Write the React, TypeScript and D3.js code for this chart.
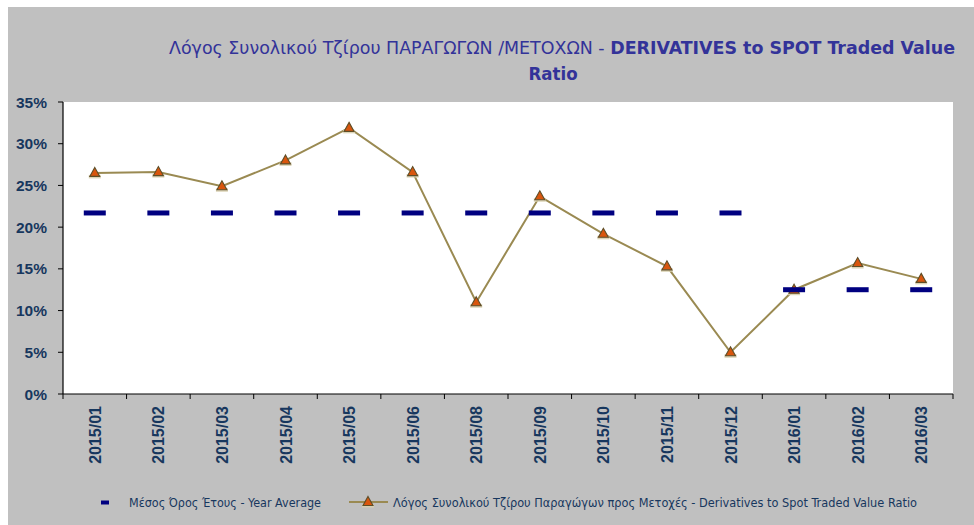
import React from "react";
import * as d3 from "d3";

const categories = ["2015/01","2015/02","2015/03","2015/04","2015/05","2015/06","2015/08","2015/09","2015/10","2015/11","2015/12","2016/01","2016/02","2016/03"];
const ratioValues = [26.5, 26.6, 24.9, 28.0, 31.9, 26.6, 11.0, 23.7, 19.2, 15.3, 5.0, 12.5, 15.7, 13.8];
const yearAverage = [21.7, 21.7, 21.7, 21.7, 21.7, 21.7, 21.7, 21.7, 21.7, 21.7, 21.7, 12.5, 12.5, 12.5];
const yTicks = [0, 5, 10, 15, 20, 25, 30, 35];

const titleLine1a = "Λόγος Συνολικού Τζίρου ΠΑΡΑΓΩΓΩΝ /ΜΕΤΟΧΩΝ - ";
const titleLine1b = "DERIVATIVES to SPOT Traded Value";
const titleLine2 = "Ratio";
const legendAvg = "Μέσος Όρος Έτους - Year Average";
const legendRatio = "Λόγος Συνολικού Τζίρου Παραγώγων προς Μετοχές - Derivatives to Spot Traded Value Ratio";

const W = 974, H = 525;
const plot = { left: 63, top: 102, right: 953, bottom: 394 };
const narrow = "'Liberation Sans Narrow', 'DejaVu Sans Condensed', 'Liberation Sans', sans-serif";
const tickColor = "#17375E";

function Marker({ x, y }: { x: number; y: number }) {
  return (
    <g transform={`translate(${x},${y})`}>
      <rect x={-6} y={2} width={12} height={3.5} fill="#d8d0b0" opacity={0.9} />
      <path d="M0,-5.5 L5,3.5 L-5,3.5 Z" fill="#d9560e" stroke="#5e4e28" strokeWidth={1.1} />
    </g>
  );
}

export default function App() {
  const x = d3.scaleBand<string>().domain(categories).range([plot.left, plot.right]).padding(0);
  const y = d3.scaleLinear().domain([0, 35]).range([plot.bottom, plot.top]);
  const cx = (c: string) => (x(c) as number) + x.bandwidth() / 2;
  const line = d3.line<number>().x((_, i) => cx(categories[i])).y((d) => y(d));

  return (
    <svg width={W} height={H} style={{ position: "absolute", left: 0, top: 0 }}>
      <rect x={0} y={0} width={W} height={H} fill="#ffffff" />
      <rect x={8} y={7} width={W - 8} height={H - 7} fill="#c0c0c0" />
      <text x={169} y={54} fontFamily={narrow} fontSize={18.5} fill="#333399" textLength={786} lengthAdjust="spacingAndGlyphs">
        <tspan>{titleLine1a}</tspan>
        <tspan fontWeight="bold">{titleLine1b}</tspan>
      </text>
      <text x={553} y={80} textAnchor="middle" fontFamily={narrow} fontSize={18.5} fontWeight="bold" fill="#333399">{titleLine2}</text>

      <rect x={plot.left} y={plot.top} width={plot.right - plot.left} height={plot.bottom - plot.top} fill="#ffffff" />

      {yTicks.map((t) => (
        <g key={t}>
          <line x1={plot.left - 5} x2={plot.left} y1={y(t)} y2={y(t)} stroke="#000" />
          <text x={47} y={y(t) + 5.5} textAnchor="end" fontFamily="'Liberation Sans', Arial, sans-serif" fontWeight="bold" fontSize={15.5} fill={tickColor}>{t}%</text>
        </g>
      ))}
      {categories.map((c, i) => (
        <line key={"t" + i} x1={x(c) as number} x2={x(c) as number} y1={plot.bottom} y2={plot.bottom + 5} stroke="#000" />
      ))}
      <line x1={plot.right} x2={plot.right} y1={plot.bottom} y2={plot.bottom + 5} stroke="#000" />
      {categories.map((c) => (
        <text key={"l" + c} transform={`translate(${cx(c) + 6},${406}) rotate(-90)`} textAnchor="end" fontFamily="'Liberation Sans', Arial, sans-serif" fontWeight="bold" fontSize={16} fill={tickColor}>{c}</text>
      ))}
      <line x1={plot.left} x2={plot.left} y1={plot.top} y2={plot.bottom} stroke="#000" strokeWidth={1.2} />
      <line x1={plot.left} x2={plot.right} y1={plot.bottom} y2={plot.bottom} stroke="#000" strokeWidth={1.2} />

      <path d={line(ratioValues) || ""} fill="none" stroke="#9a8a52" strokeWidth={2} />
      {ratioValues.map((v, i) => (
        <Marker key={"m" + i} x={cx(categories[i])} y={y(v)} />
      ))}
      {yearAverage.map((v, i) => (
        <rect key={"a" + i} x={cx(categories[i]) - 11} y={y(v) - 2.5} width={22} height={5} fill="#000080" />
      ))}

      <rect x={101} y={500.5} width={8} height={4} fill="#000080" />
      <text x={129} y={507} fontFamily={narrow} fontSize={12.5} fill={tickColor} textLength={192} lengthAdjust="spacingAndGlyphs">{legendAvg}</text>
      <line x1={349} x2={388} y1={502} y2={502} stroke="#9a8a52" strokeWidth={2} />
      <Marker x={368} y={502} />
      <text x={393} y={507} fontFamily={narrow} fontSize={12.5} fill={tickColor} textLength={524} lengthAdjust="spacingAndGlyphs">{legendRatio}</text>
    </svg>
  );
}
